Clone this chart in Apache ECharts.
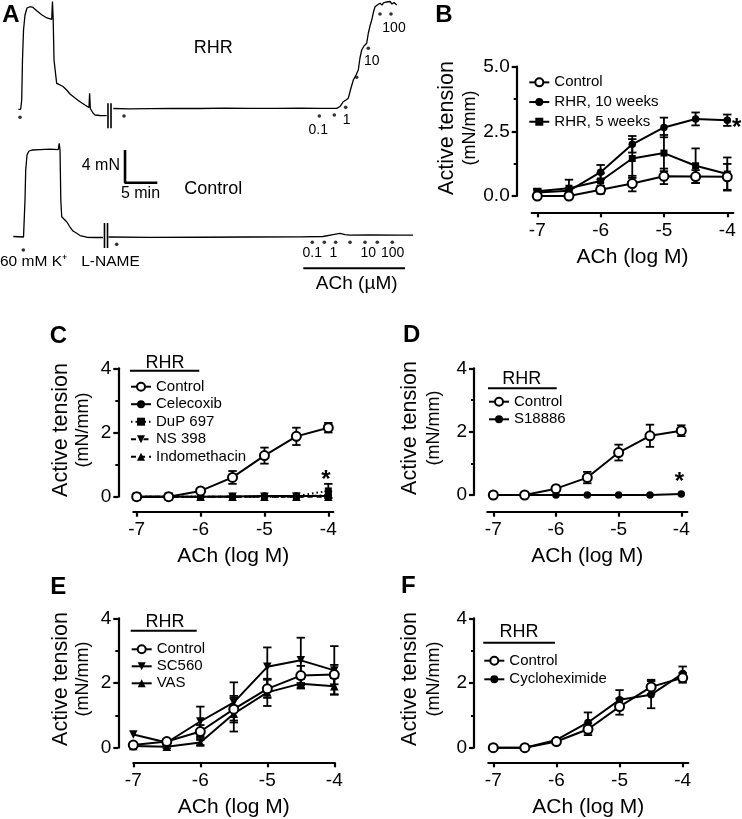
<!DOCTYPE html>
<html><head><meta charset="utf-8">
<script src="https://cdn.jsdelivr.net/npm/echarts@6/dist/echarts.min.js"></script>
<style>html,body{margin:0;padding:0;background:#fff}#c{width:742px;height:819px}</style>
</head><body><div id="c"></div>
<script>
// ---------- DATA ----------
const doses = [-7, -6.5, -6, -5.5, -5, -4.5, -4];   // ACh (log M)
const xTicks = [-7, -6, -5, -4];

// Panel B
const bControl = [0, 0, 0.24, 0.48, 0.76, 0.75, 0.74];
const bControlErr = [0.05, 0.05, 0.15, 0.3, 0.3, 0.25, 0.5];
const bRHR10 = [0.14, 0.2, 0.92, 2.0, 2.65, 2.98, 2.93];
const bRHR10Err = [0.1, 0.1, 0.28, 0.32, 0.38, 0.25, 0.22];
const bRHR5 = [0.18, 0.3, 0.58, 1.45, 1.66, 1.17, 0.85];
const bRHR5Err = [0.1, 0.33, 0.3, 0.75, 0.7, 0.67, 0.64];

// Panel C
const cControl = [0, 0, 0.18, 0.6, 1.28, 1.88, 2.15];
const cControlErr = [0, 0, 0.05, 0.2, 0.25, 0.27, 0.15];
const cCelecoxib = [0, 0, 0, 0.01, 0.02, 0.02, 0.02];
const cDuP = [0, 0, 0, 0, 0, 0.02, 0.18];
const cDuPErr = [0, 0, 0, 0, 0, 0, 0.22];
const cNS398 = [0, 0, 0, 0, 0, 0, 0.05];
const cIndo = [0, 0, 0, 0, 0, 0, 0];

// Panel D
const dControl = [0, 0, 0.2, 0.55, 1.34, 1.87, 2.03];
const dControlErr = [0, 0, 0.05, 0.18, 0.25, 0.35, 0.17];
const dS18886 = [0, 0, 0, 0, 0, 0, 0.03];

// Panel E
const eControl = [0.08, 0.19, 0.5, 1.19, 1.82, 2.23, 2.26];
const eControlErr = [0, 0.08, 0.2, 0.35, 0.28, 0.3, 0.3];
const eSC560 = [0.41, 0.16, 0.81, 1.4, 2.5, 2.7, 2.39];
const eSC560Err = [0, 0.08, 0.46, 0.62, 0.6, 0.7, 0.75];
const eVAS = [0.05, 0.03, 0.16, 1.05, 1.71, 1.98, 1.9];
const eVASErr = [0, 0.05, 0.08, 0.55, 0.42, 0.15, 0.25];

// Panel F
const fControl = [0, 0, 0.19, 0.57, 1.27, 1.88, 2.16];
const fControlErr = [0, 0, 0.03, 0.18, 0.25, 0.22, 0.15];
const fCyclo = [0, 0, 0.24, 0.78, 1.48, 1.64, 2.29];
const fCycloErr = [0, 0, 0.03, 0.31, 0.3, 0.42, 0.22];

// Panel A traces: [time (min), tension (mN)]
const rhrTraceBefore = [[2.83,0],[3.20,0],[3.36,1.14],[3.48,6.04],[3.64,9.71],[3.87,11.55],[4.18,12.40],[4.64,12.56],[5.11,12.47],[5.73,12.04],[6.50,11.55],[7.27,11.18],[8.00,11.00],[8.12,13.20],[8.23,11.06],[8.36,6.04],[8.77,3.18],[9.29,2.98],[9.75,2.79],[10.32,2.36],[10.83,1.87],[11.61,1.38],[12.38,0.93],[13.15,0.53],[13.77,0.22],[13.87,1.96],[13.98,0.10],[14.39,-0.45],[14.70,-0.70],[15.48,-0.76],[16.51,-0.78]];
const rhrTraceAfter = [[17.53,0.10],[20.0,0.05],[23.21,0.08],[26.5,0.12],[30.95,0.10],[34.8,0.14],[38.69,0.11],[42.6,0.12],[46.43,0.13],[49.5,0.12],[52.11,0.12],[52.62,0.34],[53.13,0.93],[53.55,1.14],[53.90,1.35],[54.32,2.61],[54.68,3.59],[55.10,4.20],[55.45,4.81],[55.71,6.28],[55.98,7.26],[56.33,7.75],[56.75,8.08],[57.00,9.31],[57.26,10.20],[57.53,10.93],[57.80,11.91],[58.04,12.56],[58.50,12.83],[58.81,12.98],[59.12,12.77],[59.35,13.02],[59.58,12.83],[59.82,13.14],[60.05,12.96],[60.36,13.20],[60.67,12.89],[60.98,13.08],[61.39,12.77]];
const ctrlTraceBefore = [[2.06,0],[3.64,-0.06],[3.79,0.06],[3.87,4.47],[3.98,8.14],[4.18,9.98],[4.49,10.47],[4.95,10.59],[6.19,10.65],[7.74,10.71],[9.02,10.65],[9.16,11.41],[9.29,10.59],[9.41,4.47],[9.55,2.42],[9.90,2.14],[10.32,1.81],[10.83,1.16],[11.30,0.67],[11.87,0.39],[12.38,0.12],[13.42,-0.09],[14.70,-0.12],[15.94,-0.12]];
const ctrlTraceAfter = [[16.79,-0.06],[23.21,-0.10],[30.95,-0.09],[38.69,-0.06],[46.43,-0.04],[49.99,0],[51.54,0.23],[52.62,0.37],[53.39,0.24],[54.17,0.18],[57.26,0.21],[61.90,0.16],[63.92,0.18]];
const rhrDots = [[3.10,-0.98],[19.19,-0.82],[49.42,-0.82],[51.74,-0.70],[53.50,0.24],[55.20,3.92],[57.00,7.47],[58.81,11.67],[60.51,11.67]];
const ctrlDots = [[3.61,-1.65],[18.06,-0.96],[48.33,-0.71],[50.19,-0.71],[51.95,-0.71],[54.17,-0.71],[56.49,-0.71],[58.39,-0.71],[60.71,-0.71]];
const scaleBar = [[19.35,10.59],[19.35,6.59],[24.35,6.59]];   // 5 min x 4 mN
const rhrBreak = [[16.71, 17.18], [0.73, -2.33]];
const ctrlBreak = [[16.17, 16.64], [1.65, -1.41]];
const rhrDoseLabels = ['0.1', '1', '10', '100'];
const ctrlDoseLabels = ['0.1', '1', '10', '100'];

// ---------- BUILD ----------
const FONT = '"Liberation Sans", Arial, Helvetica, sans-serif';
const K = '#000';
const option = {animation: false, backgroundColor: '#fff', grid: [], xAxis: [], yAxis: [], series: [], legend: [], graphic: {elements: []}};
const G = option.graphic.elements;

function txt(text, x, y, size, o) {
  o = o || {};
  G.push({type: 'text', x: x, y: y, rotation: o.rot || 0, z: 20, silent: true,
    style: {text: text, fontSize: size, fontFamily: FONT, fontWeight: o.bold ? 'bold' : 'normal', fill: K,
      textAlign: o.align || 'center', textVerticalAlign: 'middle', align: o.align || 'center', verticalAlign: 'middle'}});
}
function seg(x1, y1, x2, y2, w) {
  G.push({type: 'line', z: 20, silent: true, shape: {x1: x1, y1: y1, x2: x2, y2: y2}, style: {stroke: K, lineWidth: w}});
}

// Panel A grids (hidden axes), 1 min = 6.4615 px, 1 mN = 8.1667 px
option.grid.push({left: 0, top: 0.68, width: 420, height: 129.03});
option.xAxis.push({gridIndex: 0, type: 'value', min: 0, max: 65, show: false});
option.yAxis.push({gridIndex: 0, type: 'value', min: -2.5, max: 13.3, show: false});
option.grid.push({left: 0, top: 138.5, width: 420, height: 130.67});
option.xAxis.push({gridIndex: 1, type: 'value', min: 0, max: 65, show: false});
option.yAxis.push({gridIndex: 1, type: 'value', min: -4, max: 12, show: false});

function traceLine(gi, data, w) {
  option.series.push({type: 'line', xAxisIndex: gi, yAxisIndex: gi, data: data, symbol: 'none', clip: false, silent: true,
    lineStyle: {color: K, width: w}});
}
traceLine(0, rhrTraceBefore, 1.3);
traceLine(0, rhrTraceAfter, 1.3);
traceLine(1, ctrlTraceBefore, 1.3);
traceLine(1, ctrlTraceAfter, 1.3);
traceLine(1, scaleBar, 2.6);
[[0, rhrBreak], [1, ctrlBreak]].forEach(function (p) {
  p[1][0].forEach(function (t) { traceLine(p[0], [[t, p[1][1][0]], [t, p[1][1][1]]], 1.6); });
});
[[0, rhrDots], [1, ctrlDots]].forEach(function (p) {
  option.series.push({type: 'scatter', xAxisIndex: p[0], yAxisIndex: p[0], data: p[1], symbol: 'circle', symbolSize: 3.6,
    itemStyle: {color: K}, clip: false, silent: true});
});

// Panel A texts
txt('A', 11, 15, 24, {bold: true});
txt('RHR', 213.3, 48.3, 18);
txt('Control', 213.3, 189.3, 18);
txt('4 mN', 120, 166, 16, {align: 'right'});
txt('5 min', 140.5, 193.3, 16);
txt('60 mM K\u207A', 33.5, 261.7, 15.5);
txt('L-NAME', 110.5, 261.7, 15.5);
const rhrLabelPos = [[318.3, 130], [346.7, 120], [371.7, 61], [394, 28]];
rhrDoseLabels.forEach(function (t, i) { txt(t, rhrLabelPos[i][0], rhrLabelPos[i][1], 14); });
const ctrlLabelPos = [[312.3, 253.3], [333.3, 253.3], [368.3, 253.3], [392.7, 253.3]];
ctrlDoseLabels.forEach(function (t, i) { txt(t, ctrlLabelPos[i][0], ctrlLabelPos[i][1], 14); });
seg(303.3, 268.3, 405, 268.3, 2);
txt('ACh (\u00B5M)', 356.7, 283.3, 19);

// dose-response panels
function errData(means, errs) {
  const out = [];
  doses.forEach(function (x, i) { if (errs && errs[i] > 0) out.push([x, means[i] - errs[i], means[i] + errs[i]]); });
  return out;
}
function errRender(params, api) {
  const x = api.value(0);
  const lo = api.coord([x, api.value(1)]);
  const hi = api.coord([x, api.value(2)]);
  const w = 4.2, st = {stroke: K, lineWidth: 1.8};
  return {type: 'group', children: [
    {type: 'line', shape: {x1: lo[0], y1: lo[1], x2: hi[0], y2: hi[1]}, style: st},
    {type: 'line', shape: {x1: lo[0] - w, y1: lo[1], x2: lo[0] + w, y2: lo[1]}, style: st},
    {type: 'line', shape: {x1: hi[0] - w, y1: hi[1], x2: hi[0] + w, y2: hi[1]}, style: st}]};
}

function panel(p) {
  const gi = p.gi;
  option.grid.push({left: p.left, top: p.top, width: p.width, height: p.height});
  option.xAxis.push({gridIndex: gi, type: 'value', min: p.xmin, max: p.xmax, offset: p.xOff,
    axisLine: {show: true, onZero: false, lineStyle: {color: K, width: 2.2}},
    axisTick: {show: true, length: 5, customValues: xTicks, lineStyle: {color: K, width: 2.2}},
    axisLabel: {customValues: xTicks, fontSize: 19, fontFamily: FONT, color: K, margin: 9},
    splitLine: {show: false},
    name: 'ACh (log M)', nameLocation: 'middle', nameGap: 34,
    nameTextStyle: {fontSize: 21, fontFamily: FONT, color: K}});
  option.yAxis.push({gridIndex: gi, type: 'value', min: 0, max: p.ymax, interval: p.yInt, offset: p.yOff,
    axisLine: {show: true, onZero: false, lineStyle: {color: K, width: 2.2}},
    axisTick: {show: true, length: 5, lineStyle: {color: K, width: 2.2}},
    minorTick: {show: true, splitNumber: 2, length: 3, lineStyle: {color: K, width: 2}},
    splitLine: {show: false}, minorSplitLine: {show: false},
    axisLabel: {fontSize: 19, fontFamily: FONT, color: K, margin: 7,
      formatter: function (v) { return p.yDec ? v.toFixed(p.yDec) : String(v); }}});
  const names = [];
  p.series.forEach(function (s) {
    if (s.errs) option.series.push({type: 'custom', xAxisIndex: gi, yAxisIndex: gi, data: errData(s.vals, s.errs),
      renderItem: errRender, encode: {x: 0, y: [1, 2]}, clip: false, silent: true, z: 1});
  });
  p.series.forEach(function (s, k) {
    names.push(s.name);
    option.series.push({type: 'line', name: s.name, xAxisIndex: gi, yAxisIndex: gi,
      data: doses.map(function (x, i) { return [x, s.vals[i]]; }),
      symbol: s.symbol, symbolSize: s.size, symbolRotate: s.rotate || 0, showAllSymbol: true,
      lineStyle: {color: K, width: 2, type: s.dash || 'solid'},
      itemStyle: {color: K, borderColor: K, borderWidth: s.symbol === 'emptyCircle' ? 1.8 : 0},
      clip: false, z: 3 + (s.symbol === 'emptyCircle' ? 1 : 0)});
  });
  option.legend.push({left: p.legend.left, top: p.legend.top, orient: 'vertical', padding: 0, itemGap: 0,
    itemWidth: 20, itemHeight: 10, data: names, selectedMode: false,
    textStyle: {fontSize: 15, fontFamily: FONT, color: K, lineHeight: p.legend.pitch}});
}

const OPEN = {symbol: 'emptyCircle', size: 9};
panel({gi: 2, left: 531.7, top: 66.7, width: 201.6, height: 129.3, xmin: -7.088, xmax: -3.905, ymax: 5, yInt: 2.5, yDec: 1,
  yOff: 15, xOff: 16.3, legend: {left: 528.3, top: 72.5, pitch: 19.7},
  series: [
    Object.assign({name: 'Control', vals: bControl, errs: bControlErr}, OPEN),
    {name: 'RHR, 10 weeks', vals: bRHR10, errs: bRHR10Err, symbol: 'circle', size: 7.5},
    {name: 'RHR, 5 weeks', vals: bRHR5, errs: bRHR5Err, symbol: 'rect', size: 7}]});
panel({gi: 3, left: 133.3, top: 368.3, width: 200, height: 128.4, xmin: -7.053, xmax: -3.922, ymax: 4, yInt: 2,
  yOff: 15, xOff: 15, legend: {left: 130, top: 377.95, pitch: 17.5},
  series: [
    Object.assign({name: 'Control', vals: cControl, errs: cControlErr}, OPEN),
    {name: 'Celecoxib', vals: cCelecoxib, symbol: 'circle', size: 7.5},
    {name: 'DuP 697', vals: cDuP, errs: cDuPErr, symbol: 'rect', size: 7, dash: [1.5, 3]},
    {name: 'NS 398', vals: cNS398, symbol: 'triangle', size: 8.5, rotate: 180, dash: [5, 3, 1.5, 3]},
    {name: 'Indomethacin', vals: cIndo, symbol: 'triangle', size: 8.5, dash: [5, 4]}]});
panel({gi: 4, left: 487.3, top: 368.3, width: 200, height: 126.7, xmin: -7.096, xmax: -3.904, ymax: 4, yInt: 2,
  yOff: 13.3, xOff: 16.7, legend: {left: 488, top: 392.9, pitch: 17.6},
  series: [
    Object.assign({name: 'Control', vals: dControl, errs: dControlErr}, OPEN),
    {name: 'S18886', vals: dS18886, symbol: 'circle', size: 7.5}]});
panel({gi: 5, left: 133.3, top: 618.3, width: 201, height: 129.4, xmin: -7, xmax: -4, ymax: 4, yInt: 2,
  yOff: 15, xOff: 14.6, legend: {left: 130.7, top: 640.8, pitch: 17},
  series: [
    Object.assign({name: 'Control', vals: eControl, errs: eControlErr}, OPEN),
    {name: 'SC560', vals: eSC560, errs: eSC560Err, symbol: 'triangle', size: 8.5, rotate: 180},
    {name: 'VAS', vals: eVAS, errs: eVASErr, symbol: 'triangle', size: 8.5}]});
panel({gi: 6, left: 488.3, top: 618.3, width: 200, height: 129.4, xmin: -7.079, xmax: -3.911, ymax: 4, yInt: 2,
  yOff: 14.3, xOff: 14.6, legend: {left: 483.3, top: 651.4, pitch: 18.6},
  series: [
    Object.assign({name: 'Control', vals: fControl, errs: fControlErr}, OPEN),
    {name: 'Cycloheximide', vals: fCyclo, errs: fCycloErr, symbol: 'circle', size: 7.5}]});

// Panel letters
txt('B', 444, 15.3, 24, {bold: true});
txt('C', 58.3, 336, 24, {bold: true});
txt('D', 411.7, 335.3, 24, {bold: true});
txt('E', 58.3, 587.3, 24, {bold: true});
txt('F', 408.3, 586, 24, {bold: true});

// Y-axis titles
const R = Math.PI / 2;
[[447.5, 470.5, 128], [61, 83, 430], [410, 434, 428], [61, 83, 679], [410, 434, 679]].forEach(function (t) {
  txt('Active tension', t[0], t[2], 21.5, {rot: R});
  txt('(mN/mm)', t[1], t[2], 18, {rot: R});
});

// RHR group headers
[[165, 363, 130, 199.3, 370.7], [521.7, 379.3, 488, 556.7, 388.3], [165, 621.7, 130.7, 196.7, 630.7], [519, 631.7, 483.3, 555, 642.7]].forEach(function (h) {
  txt('RHR', h[0], h[1], 18);
  seg(h[2], h[4], h[3], h[4], 2);
});

// significance asterisks
txt('*', 736.7, 128.5, 24, {bold: true});
txt('*', 326, 480, 24, {bold: true});
txt('*', 679.3, 482.7, 24, {bold: true});

const chart = echarts.init(document.getElementById('c'));
chart.setOption(option);
</script></body></html>
